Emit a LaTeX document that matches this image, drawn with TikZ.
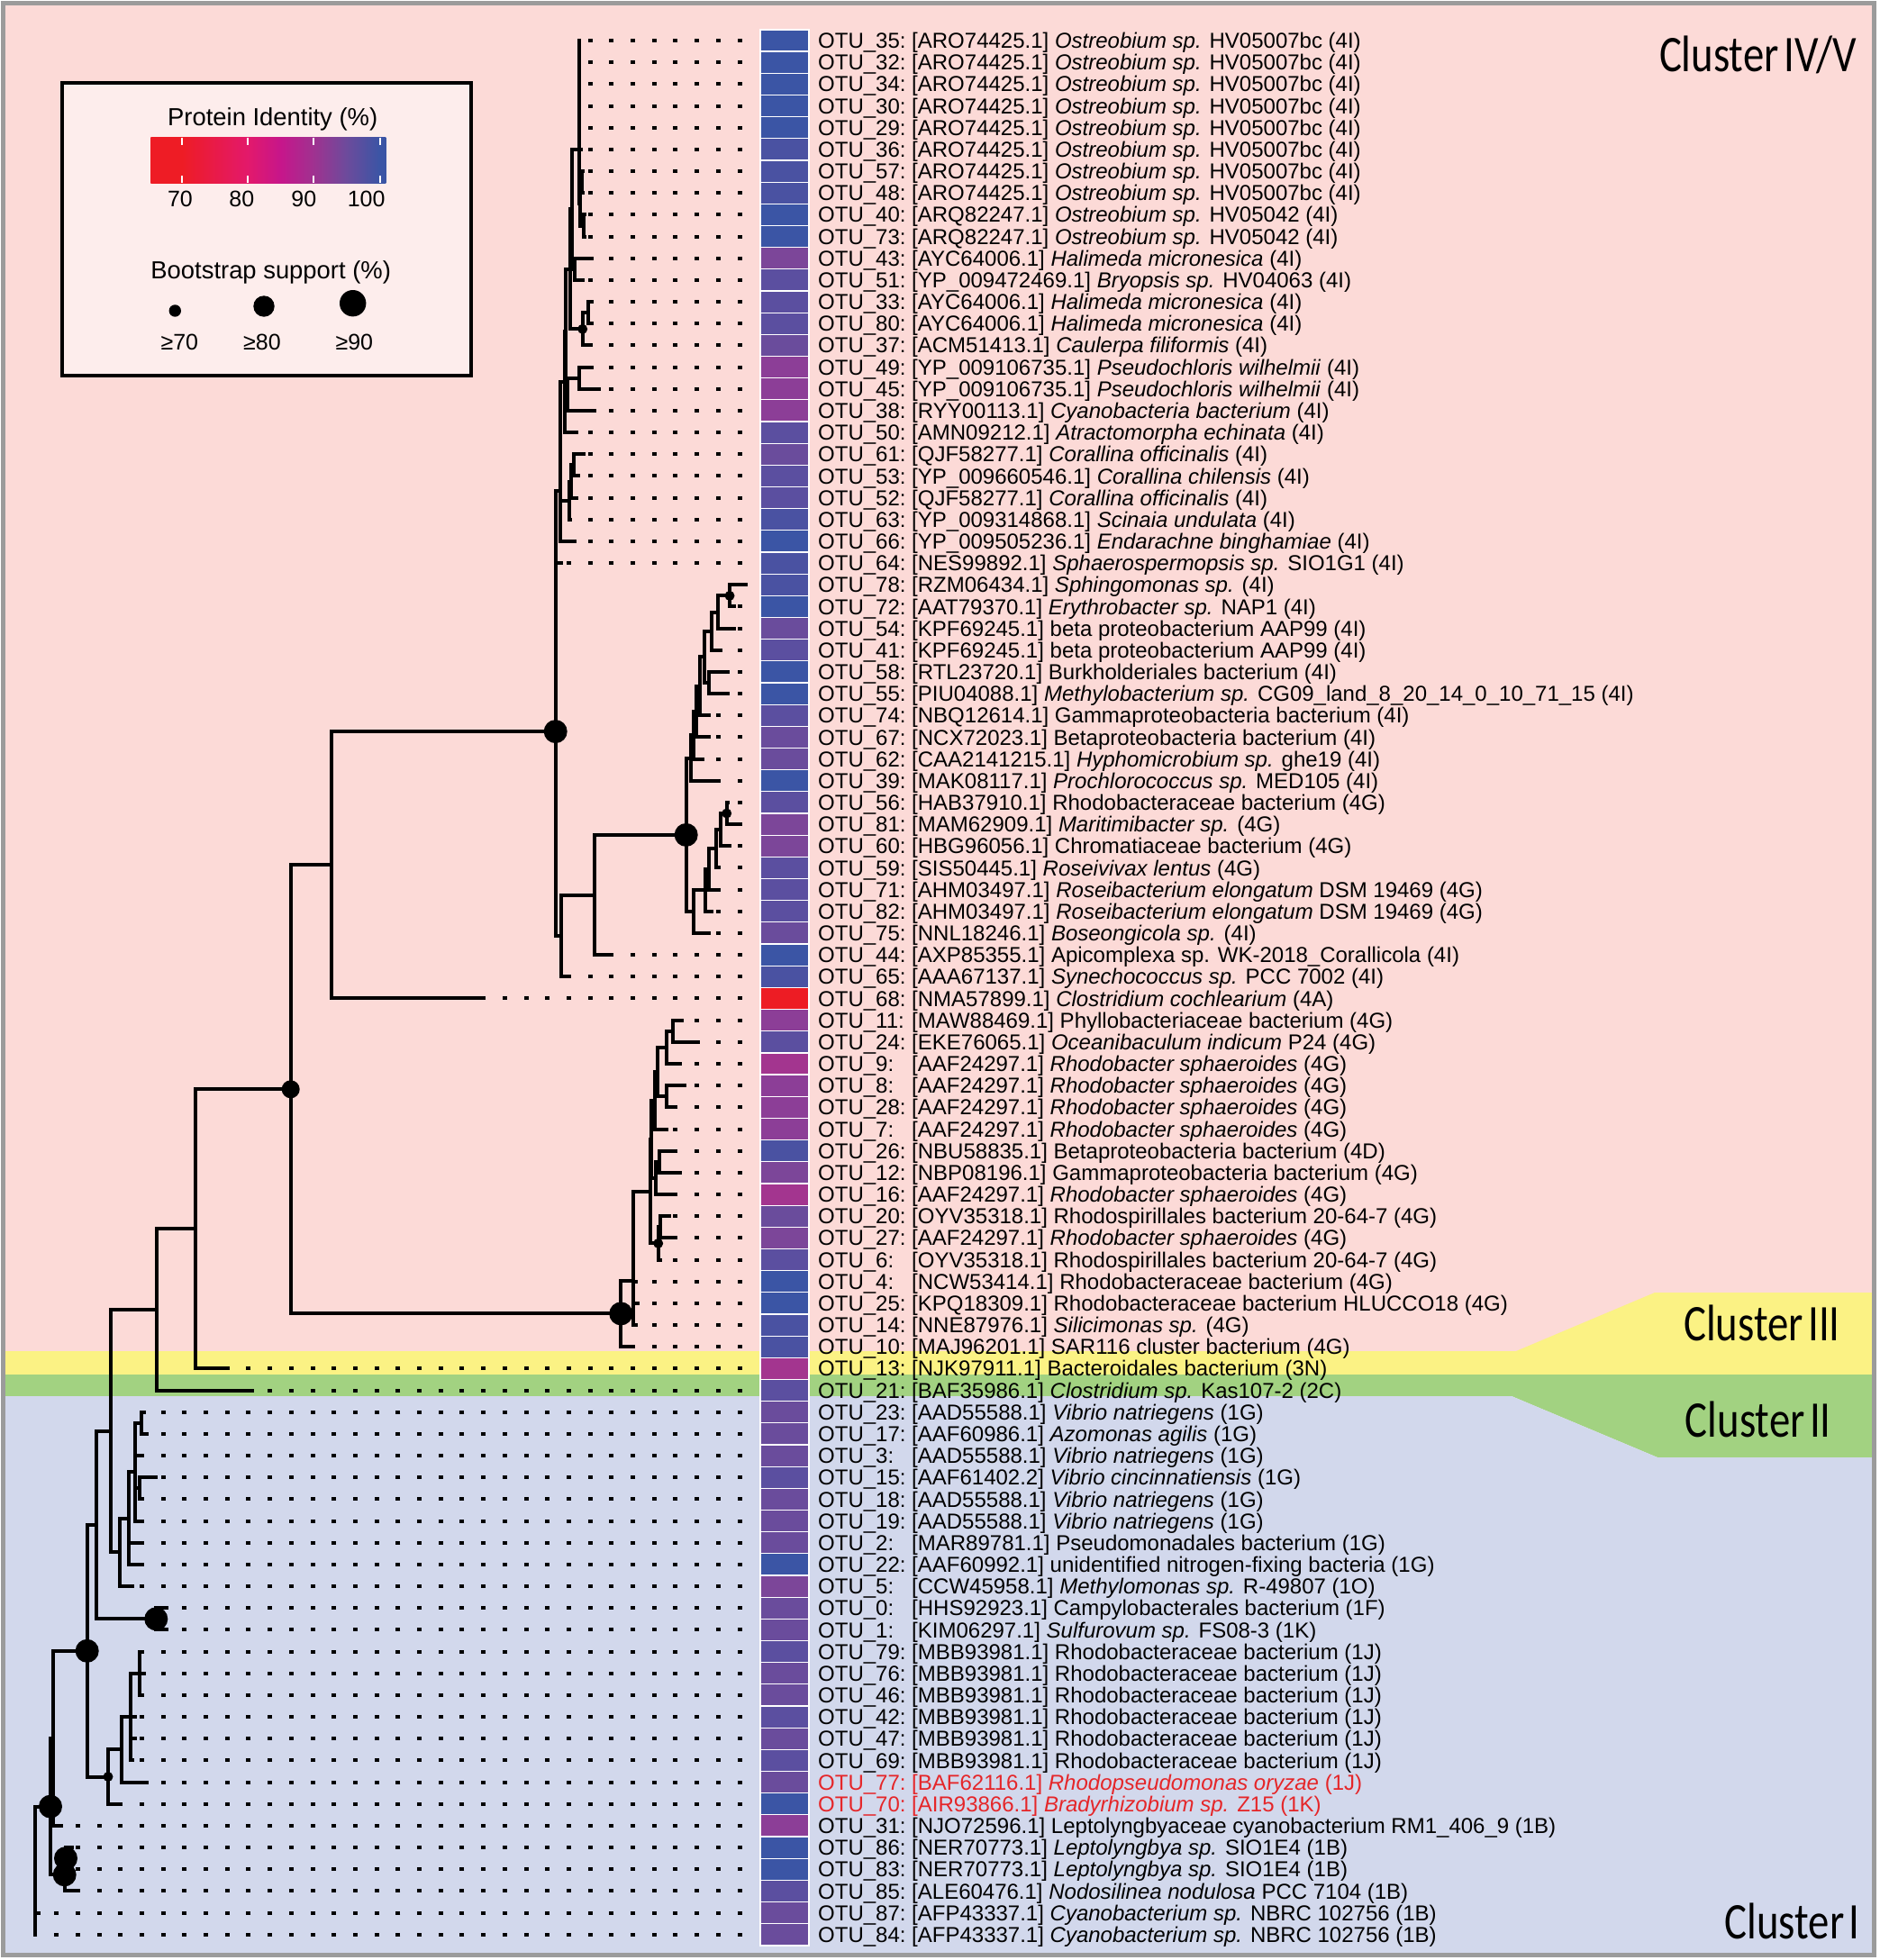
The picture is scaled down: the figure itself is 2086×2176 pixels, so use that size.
\documentclass[tikz,border=0pt]{standalone}
\usepackage{fontspec}
\setmainfont{Liberation Sans}
\newfontfamily\clusterfont[FakeStretch=0.82]{Carlito}
\usepackage{tikz}

\definecolor{bgpink}{HTML}{FCDAD7}
\definecolor{bgyellow}{HTML}{FBF284}
\definecolor{bggreen}{HTML}{A2D281}
\definecolor{bgblue}{HTML}{D2D8EC}
\definecolor{legfill}{HTML}{FDEDEC}
\definecolor{frame}{HTML}{9B9B9B}
\definecolor{labred}{HTML}{E52629}
% identity colours of the bar cells
\definecolor{cbl}{HTML}{3B55A5}
\definecolor{cbp}{HTML}{4A52A2}
\definecolor{cpa}{HTML}{5B4FA0}
\definecolor{cpb}{HTML}{6A4C9C}
\definecolor{cpc}{HTML}{7C4699}
\definecolor{cmg}{HTML}{8C3E97}
\definecolor{cmh}{HTML}{A3358F}
\definecolor{cred}{HTML}{ED1C24}
% legend scale
\definecolor{idred}{HTML}{EE1C25}
\definecolor{idpink}{HTML}{E3196B}
\definecolor{idmag}{HTML}{C6168B}
\definecolor{idvio}{HTML}{9F3290}
\definecolor{idpur}{HTML}{6C4B9C}
\definecolor{idblue}{HTML}{3B55A5}
\pgfdeclarehorizontalshading{pident}{100bp}{color(0bp)=(idred); color(31.6bp)=(idred); color(45.6bp)=(idpink); color(52.7bp)=(idmag); color(59.7bp)=(idvio); color(66.7bp)=(idpur); color(73.7bp)=(idblue); color(100bp)=(idblue)}

\tikzset{
  branch/.style={line width=4pt, line cap=rect},
  leader/.style={line width=4pt, dash pattern=on 5pt off 18.7pt},
  cell/.style={draw=white, line width=1.2pt, minimum width=54pt, minimum height=24.17pt, inner sep=0pt},
  lab/.style={anchor=base west, inner sep=0pt, font=\fontsize{24}{24}\selectfont},
  legtext/.style={anchor=base, inner sep=0pt, font=\fontsize{27.4}{30}\selectfont},
  legnum/.style={anchor=base, inner sep=0pt, font=\fontsize{25}{28}\selectfont},
  clus/.style={anchor=base east, inner sep=0pt, font=\clusterfont\fontsize{57}{57}\selectfont},
}

% one OTU row: [text colour]{row}{otu id}{tip x}{cell colour}{label}
\newcommand{\otu}[6][black]{%
  \pgfmathsetmacro{\ry}{45+(#2-1)*24.17}%
  \coordinate (t#3) at (#4,\ry);
  \coordinate (e#3) at (823.5,\ry);
  \draw[leader] (e#3) -- (t#3);
  \node[cell, fill=#5] (pid#3) at (871,\ry) {};
  \node[lab, text=#1] (lab#3) at (908,\ry+8.6) {\rlap{OTU\_#3:}\phantom{OTU\_00:} #6};
}

\begin{document}
\begin{tikzpicture}[x=1pt,y=-1pt]
\useasboundingbox (0,0) rectangle (2086,2176);
% cluster backgrounds
\fill[white] (0,0) rectangle (2086,2176);
\fill[bgpink] (3,3) rectangle (2080,1500);
\fill[bgyellow] (3,1500) -- (1683,1500) -- (1837,1435) -- (2080,1435) -- (2080,1526) -- (3,1526) -- cycle;
\fill[bggreen] (3,1526) -- (2080,1526) -- (2080,1618) -- (1840,1618) -- (1678,1550) -- (3,1550) -- cycle;
\fill[bgblue] (3,1550) -- (1678,1550) -- (1840,1618) -- (2080,1618) -- (2080,2170) -- (3,2170) -- cycle;
\draw[frame, line width=5pt] (3,3) rectangle (2080,2170);

% legend
\draw[line width=4pt, fill=legfill] (69.3,91.7) rectangle (523.3,416.7);
\node[legtext] (pidtitle) at (302.7,139.9) {Protein Identity (\%)};
\shade[shading=pident] (167.3,152.7) rectangle (428.3,203.3);
\foreach \x in {201.7,275,347.7,421.7} {
  \draw[white, line width=2pt] (\x,152.7) -- (\x,161);
  \draw[white, line width=2pt] (\x,195) -- (\x,203.3);
}
\foreach \x/\v in {200/70,268.3/80,337.3/90,406.7/100}
  \node[legnum] (tick\v) at (\x,229) {\v};
\node[legtext] (bstitle) at (300.7,309.9) {Bootstrap support (\%)};
\fill (194.3,345) circle[radius=6.7];
\fill (293,340) circle[radius=11.7];
\fill (391.7,336.7) circle[radius=14.7];
\foreach \x/\v in {199.3/70,291/80,393.3/90}
  \node[legnum] (bs\v) at (\x,388.3) {≥\v};

% OTU rows
\otu{1}{35}{642.7}{cbl}{[ARO74425.1] \textit{Ostreobium sp.} HV05007bc (4I)}
\otu{2}{32}{642.7}{cbl}{[ARO74425.1] \textit{Ostreobium sp.} HV05007bc (4I)}
\otu{3}{34}{642.7}{cbl}{[ARO74425.1] \textit{Ostreobium sp.} HV05007bc (4I)}
\otu{4}{30}{642.7}{cbl}{[ARO74425.1] \textit{Ostreobium sp.} HV05007bc (4I)}
\otu{5}{29}{642.7}{cbl}{[ARO74425.1] \textit{Ostreobium sp.} HV05007bc (4I)}
\otu{6}{36}{645}{cbp}{[ARO74425.1] \textit{Ostreobium sp.} HV05007bc (4I)}
\otu{7}{57}{646.7}{cbp}{[ARO74425.1] \textit{Ostreobium sp.} HV05007bc (4I)}
\otu{8}{48}{646.7}{cbp}{[ARO74425.1] \textit{Ostreobium sp.} HV05007bc (4I)}
\otu{9}{40}{649.3}{cbl}{[ARQ82247.1] \textit{Ostreobium sp.} HV05042 (4I)}
\otu{10}{73}{649.3}{cbl}{[ARQ82247.1] \textit{Ostreobium sp.} HV05042 (4I)}
\otu{11}{43}{657.3}{cpc}{[AYC64006.1] \textit{Halimeda micronesica} (4I)}
\otu{12}{51}{646.7}{cpa}{[YP\_009472469.1] \textit{Bryopsis sp.} HV04063 (4I)}
\otu{13}{33}{657}{cpa}{[AYC64006.1] \textit{Halimeda micronesica} (4I)}
\otu{14}{80}{657}{cpa}{[AYC64006.1] \textit{Halimeda micronesica} (4I)}
\otu{15}{37}{653}{cpb}{[ACM51413.1] \textit{Caulerpa filiformis} (4I)}
\otu{16}{49}{657}{cmg}{[YP\_009106735.1] \textit{Pseudochloris wilhelmii} (4I)}
\otu{17}{45}{665}{cmg}{[YP\_009106735.1] \textit{Pseudochloris wilhelmii} (4I)}
\otu{18}{38}{660}{cmg}{[RYY00113.1] \textit{Cyanobacteria bacterium} (4I)}
\otu{19}{50}{640}{cpa}{[AMN09212.1] \textit{Atractomorpha echinata} (4I)}
\otu{20}{61}{648.3}{cpb}{[QJF58277.1] \textit{Corallina officinalis} (4I)}
\otu{21}{53}{641.7}{cpa}{[YP\_009660546.1] \textit{Corallina chilensis} (4I)}
\otu{22}{52}{640}{cpa}{[QJF58277.1] \textit{Corallina officinalis} (4I)}
\otu{23}{63}{633}{cbp}{[YP\_009314868.1] \textit{Scinaia undulata} (4I)}
\otu{24}{66}{638.3}{cbl}{[YP\_009505236.1] \textit{Endarachne binghamiae} (4I)}
\otu{25}{64}{623.3}{cbp}{[NES99892.1] \textit{Sphaerospermopsis sp.} SIO1G1 (4I)}
\otu{26}{78}{828.3}{cbp}{[RZM06434.1] \textit{Sphingomonas sp.} (4I)}
\otu{27}{72}{815}{cbl}{[AAT79370.1] \textit{Erythrobacter sp.} NAP1 (4I)}
\otu{28}{54}{815}{cpb}{[KPF69245.1] beta proteobacterium AAP99 (4I)}
\otu{29}{41}{800}{cpa}{[KPF69245.1] beta proteobacterium AAP99 (4I)}
\otu{30}{58}{808}{cbl}{[RTL23720.1] Burkholderiales bacterium (4I)}
\otu{31}{55}{808}{cbl}{[PIU04088.1] \textit{Methylobacterium sp.} CG09\_land\_8\_20\_14\_0\_10\_71\_15 (4I)}
\otu{32}{74}{786.7}{cpa}{[NBQ12614.1] Gammaproteobacteria bacterium (4I)}
\otu{33}{67}{786.7}{cpb}{[NCX72023.1] Betaproteobacteria bacterium (4I)}
\otu{34}{62}{780}{cpb}{[CAA2141215.1] \textit{Hyphomicrobium sp.} ghe19 (4I)}
\otu{35}{39}{798.3}{cbl}{[MAK08117.1] \textit{Prochlorococcus sp.} MED105 (4I)}
\otu{36}{56}{808}{cpa}{[HAB37910.1] Rhodobacteraceae bacterium (4G)}
\otu{37}{81}{816.7}{cpc}{[MAM62909.1] \textit{Maritimibacter sp.} (4G)}
\otu{38}{60}{810}{cpc}{[HBG96056.1] Chromatiaceae bacterium (4G)}
\otu{39}{59}{798.3}{cpa}{[SIS50445.1] \textit{Roseivivax lentus} (4G)}
\otu{40}{71}{793.3}{cpa}{[AHM03497.1] \textit{Roseibacterium elongatum} DSM 19469 (4G)}
\otu{41}{82}{790}{cpa}{[AHM03497.1] \textit{Roseibacterium elongatum} DSM 19469 (4G)}
\otu{42}{75}{786.7}{cpb}{[NNL18246.1] \textit{Boseongicola sp.} (4I)}
\otu{43}{44}{676.7}{cbl}{[AXP85355.1] Apicomplexa sp. WK-2018\_Corallicola (4I)}
\otu{44}{65}{631.7}{cbp}{[AAA67137.1] \textit{Synechococcus sp.} PCC 7002 (4I)}
\otu{45}{68}{534}{cred}{[NMA57899.1] \textit{Clostridium cochlearium} (4A)}
\otu{46}{11}{756.7}{cmg}{[MAW88469.1] Phyllobacteriaceae bacterium (4G)}
\otu{47}{24}{775}{cpa}{[EKE76065.1] \textit{Oceanibaculum indicum} P24 (4G)}
\otu{48}{9}{755}{cmh}{[AAF24297.1] \textit{Rhodobacter sphaeroides} (4G)}
\otu{49}{8}{760}{cmg}{[AAF24297.1] \textit{Rhodobacter sphaeroides} (4G)}
\otu{50}{28}{745}{cmg}{[AAF24297.1] \textit{Rhodobacter sphaeroides} (4G)}
\otu{51}{7}{740}{cmg}{[AAF24297.1] \textit{Rhodobacter sphaeroides} (4G)}
\otu{52}{26}{748.3}{cbp}{[NBU58835.1] Betaproteobacteria bacterium (4D)}
\otu{53}{12}{755}{cpc}{[NBP08196.1] Gammaproteobacteria bacterium (4G)}
\otu{54}{16}{745}{cmh}{[AAF24297.1] \textit{Rhodobacter sphaeroides} (4G)}
\otu{55}{20}{743.3}{cpb}{[OYV35318.1] Rhodospirillales bacterium 20-64-7 (4G)}
\otu{56}{27}{750}{cpc}{[AAF24297.1] \textit{Rhodobacter sphaeroides} (4G)}
\otu{57}{6}{733}{cpa}{[OYV35318.1] Rhodospirillales bacterium 20-64-7 (4G)}
\otu{58}{4}{706}{cbl}{[NCW53414.1] Rhodobacteraceae bacterium (4G)}
\otu{59}{25}{708.3}{cbl}{[KPQ18309.1] Rhodobacteraceae bacterium HLUCCO18 (4G)}
\otu{60}{14}{706}{cbp}{[NNE87976.1] \textit{Silicimonas sp.} (4G)}
\otu{61}{10}{698}{cbp}{[MAJ96201.1] SAR116 cluster bacterium (4G)}
\otu{62}{13}{250}{cmh}{[NJK97911.1] Bacteroidales bacterium (3N)}
\otu{63}{21}{280}{cpa}{[BAF35986.1] \textit{Clostridium sp.} Kas107-2 (2C)}
\otu{64}{23}{160}{cpb}{[AAD55588.1] \textit{Vibrio natriegens} (1G)}
\otu{65}{17}{163}{cpb}{[AAF60986.1] \textit{Azomonas agilis} (1G)}
\otu{66}{3}{158}{cpb}{[AAD55588.1] \textit{Vibrio natriegens} (1G)}
\otu{67}{15}{172.7}{cpa}{[AAF61402.2] \textit{Vibrio cincinnatiensis} (1G)}
\otu{68}{18}{158}{cpb}{[AAD55588.1] \textit{Vibrio natriegens} (1G)}
\otu{69}{19}{158}{cpb}{[AAD55588.1] \textit{Vibrio natriegens} (1G)}
\otu{70}{2}{153}{cpb}{[MAR89781.1] Pseudomonadales bacterium (1G)}
\otu{71}{22}{153.3}{cbl}{[AAF60992.1] unidentified nitrogen-fixing bacteria (1G)}
\otu{72}{5}{146.7}{cpc}{[CCW45958.1] \textit{Methylomonas sp.} R-49807 (1O)}
\otu{73}{0}{185}{cpb}{[HHS92923.1] Campylobacterales bacterium (1F)}
\otu{74}{1}{185}{cpb}{[KIM06297.1] \textit{Sulfurovum sp.} FS08-3 (1K)}
\otu{75}{79}{157}{cpa}{[MBB93981.1] Rhodobacteraceae bacterium (1J)}
\otu{76}{76}{160}{cpb}{[MBB93981.1] Rhodobacteraceae bacterium (1J)}
\otu{77}{46}{157}{cpb}{[MBB93981.1] Rhodobacteraceae bacterium (1J)}
\otu{78}{42}{150}{cpa}{[MBB93981.1] Rhodobacteraceae bacterium (1J)}
\otu{79}{47}{150}{cpb}{[MBB93981.1] Rhodobacteraceae bacterium (1J)}
\otu{80}{69}{146.7}{cpa}{[MBB93981.1] Rhodobacteraceae bacterium (1J)}
\otu[labred]{81}{77}{162.7}{cpb}{[BAF62116.1] \textit{Rhodopseudomonas oryzae} (1J)}
\otu[labred]{82}{70}{133}{cbl}{[AIR93866.1] \textit{Bradyrhizobium sp.} Z15 (1K)}
\otu{83}{31}{68.3}{cmg}{[NJO72596.1] Leptolyngbyaceae cyanobacterium RM1\_406\_9 (1B)}
\otu{84}{86}{80}{cbl}{[NER70773.1] \textit{Leptolyngbya sp.} SIO1E4 (1B)}
\otu{85}{83}{80}{cbl}{[NER70773.1] \textit{Leptolyngbya sp.} SIO1E4 (1B)}
\otu{86}{85}{81.7}{cpa}{[ALE60476.1] \textit{Nodosilinea nodulosa} PCC 7104 (1B)}
\otu{87}{87}{43}{cpb}{[AFP43337.1] \textit{Cyanobacterium sp.} NBRC 102756 (1B)}
\otu{88}{84}{39.3}{cpb}{[AFP43337.1] \textit{Cyanobacterium sp.} NBRC 102756 (1B)}

% internal nodes, Cluster IV/V algal part
\coordinate (a1) at (642.7,105.5);
\coordinate (a7) at (646,202.1);
\coordinate (a9) at (647.5,250.5);
\coordinate (a7b) at (644.3,226.3);
\coordinate (a2) at (642.7,165.9);
\coordinate (a11) at (638.3,298.8);
\coordinate (s1) at (635,232.4);
\coordinate (a13) at (653.3,347.1);
\coordinate (a15) at (646.7,365.3);
\coordinate (s2) at (632.5,298.8);
\coordinate (a16) at (642.5,419.7);
\coordinate (a18) at (630,437.8);
\coordinate (s3) at (628.3,368.3);
\coordinate (s4) at (626.7,424.2);
\coordinate (a20) at (636.7,516.3);
\coordinate (a21) at (634.2,534.5);
\coordinate (a22) at (632,555.6);
\coordinate (s5) at (621.7,489.9);
\coordinate (s6) at (621.7,545.4);
\coordinate (x0) at (616.7,585.3);
% bacterial 4I and 4G part
\coordinate (b26) at (810,661.4);
\coordinate (b28) at (796.7,679.5);
\coordinate (b29) at (790,700.7);
\coordinate (b30) at (786.7,758);
\coordinate (b31) at (781.7,729.4);
\coordinate (b32) at (776.7,761.9);
\coordinate (b33) at (773.3,790.2);
\coordinate (b34) at (770,816.4);
\coordinate (b35) at (766.7,841.6);
\coordinate (g36) at (806.7,903);
\coordinate (g38) at (800,921.2);
\coordinate (g39) at (795,942.3);
\coordinate (g40) at (786.7,965);
\coordinate (g41) at (783.3,988.4);
\coordinate (g42) at (770,1012.2);
\coordinate (ad) at (761.7,926.9);
\coordinate (ac) at (660,993.5);
\coordinate (ab) at (623.3,1038.9);
\coordinate (a0) at (616.7,812.1);
\coordinate (n368) at (368,960.3);
% 4G clade below OTU_68
\coordinate (c46) at (746.7,1144.7);
\coordinate (c48) at (740,1162.9);
\coordinate (c49) at (740,1217.2);
\coordinate (c50) at (730,1190.1);
\coordinate (c51) at (726.7,1221.8);
\coordinate (c52) at (731.7,1289.7);
\coordinate (c53) at (728.3,1307.9);
\coordinate (c54) at (723.3,1264.9);
\coordinate (c55) at (733.3,1362.2);
\coordinate (c57) at (730.7,1380.4);
\coordinate (c58) at (721.7,1322.6);
\coordinate (c59) at (703.3,1421.7);
\coordinate (cb) at (689.3,1458.4);
\coordinate (n322) at (322.7,1209.3);
\coordinate (n217) at (217.3,1364.3);
\coordinate (n174) at (174,1453.9);
% Cluster I
\coordinate (i64) at (156.7,1579.8);
\coordinate (i67) at (155,1652.3);
\coordinate (i66) at (150,1634.2);
\coordinate (i70) at (143.3,1685.6);
\coordinate (i72) at (133.3,1723.3);
\coordinate (n123) at (123.3,1588.6);
\coordinate (n173) at (173.3,1797.3);
\coordinate (n107) at (107.3,1693);
\coordinate (i75) at (155,1857.7);
\coordinate (i78) at (145,1906.1);
\coordinate (i81) at (135,1942.3);
\coordinate (i82) at (120,1972.5);
\coordinate (n96) at (96.7,1832.8);
\coordinate (n59) at (59.3,1929.8);
\coordinate (n73) at (73,2063.1);
\coordinate (n72) at (71.7,2081.3);
\coordinate (n56) at (56,2005.6);
\coordinate (root) at (39.3,2005.6);

% branches, parent to child
\foreach \pa/\ch in {a1/t35,a1/t32,a1/t34,a1/t30,a1/t29,a1/t36,a7/t57,a7/t48,a9/t40,a9/t73,
    a7b/a7,a7b/a9,a2/a1,a2/a7b,a11/t43,a11/t51,s1/a2,s1/a11,a13/t33,a13/t80,a15/a13,a15/t37,
    s2/s1,s2/a15,a16/t49,a16/t45,a18/a16,a18/t38,s3/s2,s3/a18,s4/s3,s4/t50,a20/t61,a20/t53,
    a21/a20,a21/t52,a22/a21,a22/t63,s5/s4,s5/a22,s6/s5,s6/t66,x0/s6,x0/t64}
  \draw[branch] (\pa) |- (\ch);
\foreach \pa/\ch in {b26/t78,b26/t72,b28/b26,b28/t54,b29/b28,b29/t41,b30/t58,b30/t55,b31/b29,b31/b30,
    b32/b31,b32/t74,b33/b32,b33/t67,b34/b33,b34/t62,b35/b34,b35/t39,g36/t56,g36/t81,g38/g36,g38/t60,
    g39/g38,g39/t59,g40/g39,g40/t71,g41/g40,g41/t82,g42/g41,g42/t75,ad/b35,ad/g42,ac/ad,ac/t44,
    ab/ac,ab/t65,a0/x0,a0/ab,n368/a0,n368/t68}
  \draw[branch] (\pa) |- (\ch);
\foreach \pa/\ch in {c46/t11,c46/t24,c48/c46,c48/t9,c49/t8,c49/t28,c50/c48,c50/c49,c51/c50,c51/t7,
    c52/t26,c52/t12,c53/c52,c53/t16,c54/c51,c54/c53,c55/t20,c55/t27,c57/c55,c57/t6,c58/c54,c58/c57,
    c59/c58,c59/t4,c59/t25,c59/t14,cb/c59,cb/t10,n322/n368,n322/cb,n217/n322,n217/t13,n174/n217,n174/t21}
  \draw[branch] (\pa) |- (\ch);
\foreach \pa/\ch in {i64/t23,i64/t17,i67/t15,i67/t18,i66/i64,i66/t3,i66/i67,i66/t19,i70/i66,i70/t2,i70/t22,
    i72/i70,i72/t5,n123/n174,n123/i72,n173/t0,n173/t1,n107/n123,n107/n173,i75/t79,i75/t76,i75/t46,
    i78/i75,i78/t42,i78/t47,i78/t69,i81/i78,i81/t77,i82/i81,i82/t70,n96/n107,n96/i82,n59/n96,n59/t31,
    n73/t86,n73/t83,n72/n73,n72/t85,n56/n59,n56/n72,root/n56,root/t87,root/t84}
  \draw[branch] (\pa) |- (\ch);

% bootstrap dots
\foreach \n in {a15,b26,g36,c57,i82} \fill (\n) circle[radius=5.5];
\fill (n322) circle[radius=10];
\foreach \n in {a0,ad,cb,n173,n96,n56,n73,n72} \fill (\n) circle[radius=13];

% cluster names
\node[clus] (cl45) at (2061,79) {Cluster\hspace{0.1em}IV/V};
\node[clus] (cl3) at (2043,1488) {Cluster\hspace{0.1em}III};
\node[clus] (cl2) at (2033,1595) {Cluster\hspace{0.1em}II};
\node[clus] (cl1) at (2065,2152) {Cluster\hspace{0.1em}I};
\end{tikzpicture}
\end{document}
